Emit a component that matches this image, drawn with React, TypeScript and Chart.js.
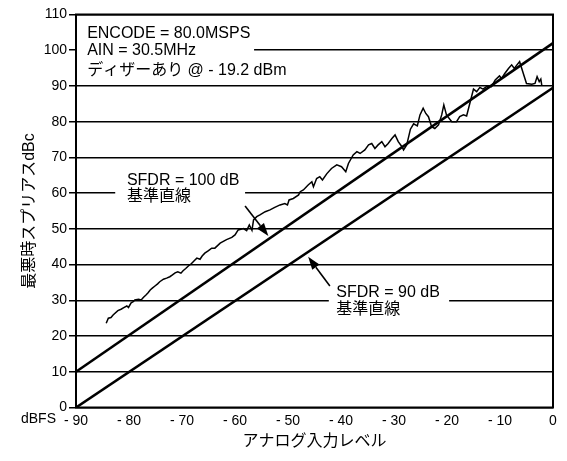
import React, { useEffect, useRef } from "react";
import { Chart, registerables } from "chart.js";

Chart.register(...registerables);

// ---- data ----
const inputLevel = [
  -84.3, -83.9, -83.4, -83.0, -82.1, -81.5, -80.9, -80.4, -80.1, -79.6, -79.2, -78.9, -78.2, -77.7,
  -77.3, -76.8, -76.4, -76.0, -75.6, -75.1, -74.6, -74.2, -73.5, -72.9, -72.3, -71.8, -71.3, -70.8,
  -70.2, -69.8, -69.3, -68.8, -68.2, -67.7, -67.2, -66.6, -66.2, -65.7, -65.0, -64.4, -63.8, -62.8,
  -61.6, -60.6, -60.0, -59.4, -58.4, -57.8, -57.3, -56.8, -56.5, -55.9, -55.3, -54.3, -53.4, -52.5,
  -51.5, -50.6, -50.1, -49.8, -49.0, -48.0, -47.7, -47.1, -46.2, -45.5, -45.2, -44.6, -44.0, -43.5,
  -42.7, -41.8, -40.8, -39.9, -39.1, -38.6, -37.7, -37.0, -36.4, -35.5, -34.8, -34.2, -33.6, -33.0,
  -32.3, -31.7, -31.1, -30.4, -29.8, -29.2, -28.5, -28.2, -27.6, -26.9, -26.3, -25.6, -25.1, -24.5,
  -24.0, -23.5, -22.9, -22.3, -21.6, -21.0, -20.6, -20.1, -19.1, -18.2, -17.6, -16.9, -16.3, -15.7,
  -15.0, -14.4, -13.8, -13.2, -12.4, -11.6, -10.9, -10.1, -9.7, -9.1, -8.4, -7.8, -7.3, -6.8, -6.3,
  -5.6, -5.0, -4.0, -3.4, -3.0, -2.6, -2.3, -2.1,
];
const worstSpurDbc = [
  23.6, 25.0, 25.2, 25.9, 27.1, 27.5, 28.0, 28.4, 28.0, 29.3, 29.6, 30.1, 30.3, 30.1,
  30.8, 31.5, 32.1, 32.9, 33.4, 34.0, 34.6, 35.2, 35.9, 36.2, 36.6, 37.1, 37.7, 38.0,
  37.6, 38.3, 38.9, 39.6, 40.3, 41.1, 41.8, 41.5, 42.4, 43.2, 43.9, 44.6, 44.6, 46.0,
  47.0, 47.6, 48.3, 49.7, 50.1, 49.5, 51.1, 49.6, 52.5, 53.4, 53.9, 54.8, 55.3, 56.0,
  56.7, 57.1, 56.7, 58.1, 58.5, 59.5, 60.4, 60.9, 62.3, 63.2, 61.8, 64.1, 64.6, 63.7,
  65.4, 66.9, 67.9, 67.4, 66.0, 68.3, 70.7, 71.6, 71.1, 72.1, 73.5, 73.9, 72.5, 73.5,
  74.4, 73.0, 73.9, 75.3, 76.3, 74.4, 73.0, 72.1, 73.5, 77.9, 79.4, 78.8, 81.9, 83.8,
  82.3, 81.4, 78.6, 78.1, 79.1, 81.9, 84.7, 81.9, 80.0, 80.0, 81.4, 81.9, 81.6, 85.1,
  89.1, 88.4, 89.6, 89.1, 90.0, 89.8, 91.7, 92.8, 92.1, 93.5, 94.9, 95.9, 94.9, 95.9, 96.8,
  93.5, 90.7, 90.5, 90.7, 92.6, 91.2, 91.9, 90.0,
];
const ref100X = [-90, 0];
const ref100Y = [10, 102];
const ref90X = [-90, 0];
const ref90Y = [0, 89.5];

const xMin = -90;
const xMax = 0;
const yMin = 0;
const yMax = 110;
const tickStep = 10;

const xTitle = "アナログ入力レベル";
const yTitle = "最悪時スプリアスdBc";
const xUnitLabel = "dBFS";

const condLines = ["ENCODE = 80.0MSPS", "AIN = 30.5MHz", "ディザーあり @ - 19.2 dBm"];
const sfdr100Lines = ["SFDR = 100 dB", "基準直線"];
const sfdr90Lines = ["SFDR = 90 dB", "基準直線"];

const FONT = "'Liberation Sans', Arial, 'Noto Sans CJK JP', sans-serif";

// annotation placement in data units
const condAnchor = { x: -87.9, y: [104.7, 99.9, 94.3] };
const condBox = { x0: -90, x1: -56.4, y0: 91.6, y1: 109.3 };
const s100Anchor = { x: -80.4, y: [63.6, 59.1] };
const s100Box = { x0: -82.6, x1: -58.1, y0: 56.8, y1: 66.2 };
const s90Anchor = { x: -40.9, y: [32.2, 27.3] };
const s90Box = { x0: -42.3, x1: -19.6, y0: 25.8, y1: 34.5 };
const arrow100 = { from: [-58.1, 56.4], to: [-53.7, 48.0] };
const arrow90 = { from: [-42.1, 34.0], to: [-46.2, 42.2] };

const annotPlugin = {
  id: "annot",
  beforeDatasetsDraw(chart: any) {
    const { ctx, scales } = chart;
    const px = (v: number) => scales.x.getPixelForValue(v);
    const py = (v: number) => scales.y.getPixelForValue(v);
    ctx.save();
    ctx.fillStyle = "#ffffff";
    for (const b of [condBox, s100Box, s90Box]) {
      ctx.fillRect(px(b.x0), py(b.y1), px(b.x1) - px(b.x0), py(b.y0) - py(b.y1));
    }
    ctx.fillStyle = "#000";
    ctx.font = `16px ${FONT}`;
    ctx.textAlign = "left";
    ctx.textBaseline = "middle";
    condLines.forEach((t, i) => ctx.fillText(t, px(condAnchor.x), py(condAnchor.y[i])));
    sfdr100Lines.forEach((t, i) => ctx.fillText(t, px(s100Anchor.x), py(s100Anchor.y[i])));
    sfdr90Lines.forEach((t, i) => ctx.fillText(t, px(s90Anchor.x), py(s90Anchor.y[i])));

    const drawArrow = (a: { from: number[]; to: number[] }) => {
      const x0 = px(a.from[0]), y0 = py(a.from[1]);
      const x1 = px(a.to[0]), y1 = py(a.to[1]);
      const ang = Math.atan2(y1 - y0, x1 - x0);
      const hl = 13, hw = 4.5;
      const bx = x1 - hl * Math.cos(ang), by = y1 - hl * Math.sin(ang);
      ctx.strokeStyle = "#000";
      ctx.lineWidth = 1.6;
      ctx.beginPath();
      ctx.moveTo(x0, y0);
      ctx.lineTo(bx, by);
      ctx.stroke();
      ctx.beginPath();
      ctx.moveTo(x1, y1);
      ctx.lineTo(bx + hw * Math.sin(ang), by - hw * Math.cos(ang));
      ctx.lineTo(bx - hw * Math.sin(ang), by + hw * Math.cos(ang));
      ctx.closePath();
      ctx.fill();
    };
    drawArrow(arrow100);
    drawArrow(arrow90);
    ctx.restore();
  },
  afterDraw(chart: any) {
    const { ctx, chartArea } = chart;
    ctx.save();
    ctx.strokeStyle = "#000";
    ctx.lineWidth = 2;
    ctx.strokeRect(chartArea.left, chartArea.top, chartArea.right - chartArea.left, chartArea.bottom - chartArea.top);
    ctx.fillStyle = "#000";
    ctx.font = `14px ${FONT}`;
    ctx.textAlign = "left";
    ctx.textBaseline = "top";
    ctx.fillText(xUnitLabel, 21, chartArea.bottom + 5);
    ctx.restore();
  },
};

export default function App() {
  const ref = useRef<HTMLCanvasElement | null>(null);
  useEffect(() => {
    if (!ref.current) return;
    const chart = new Chart(ref.current, {
      type: "scatter",
      data: {
        datasets: [
          {
            label: "worst spur",
            data: inputLevel.map((x, i) => ({ x, y: worstSpurDbc[i] })),
            showLine: true,
            borderColor: "#000",
            borderWidth: 1.5,
            pointRadius: 0,
            tension: 0,
          },
          {
            label: "SFDR 100",
            data: ref100X.map((x, i) => ({ x, y: ref100Y[i] })),
            showLine: true,
            borderColor: "#000",
            borderWidth: 2.6,
            pointRadius: 0,
          },
          {
            label: "SFDR 90",
            data: ref90X.map((x, i) => ({ x, y: ref90Y[i] })),
            showLine: true,
            borderColor: "#000",
            borderWidth: 2.6,
            pointRadius: 0,
          },
        ],
      },
      options: {
        responsive: false,
        animation: false,
        layout: { padding: { left: 0, right: 14, top: 14.5, bottom: 0 } },
        plugins: { legend: { display: false }, tooltip: { enabled: false } },
        scales: {
          x: {
            type: "linear",
            min: xMin,
            max: xMax,
            grid: { display: false, drawTicks: false },
            border: { display: false },
            ticks: {
              stepSize: tickStep,
              color: "#000",
              padding: 5,
              maxRotation: 0,
              font: { family: FONT, size: 14 },
              callback: (v: any) => (Number(v) < 0 ? "- " + Math.abs(Number(v)) : String(v)),
            },
            title: {
              display: true,
              text: xTitle,
              color: "#000",
              font: { family: FONT, size: 16 },
              padding: { top: 0, bottom: 9.4 },
            },
            afterFit: (s: any) => {
              s.height = 53.5;
            },
          },
          y: {
            type: "linear",
            min: yMin,
            max: yMax,
            grid: { color: "#000", lineWidth: 1.5, tickLength: 7, drawTicks: true },
            border: { display: false },
            ticks: {
              stepSize: tickStep,
              color: "#000",
              padding: 2,
              font: { family: FONT, size: 14 },
            },
            title: {
              display: true,
              text: yTitle,
              color: "#000",
              font: { family: FONT, size: 16 },
              padding: { top: 20.4, bottom: 0 },
            },
            afterFit: (s: any) => {
              s.width = 76;
            },
          },
        },
      },
      plugins: [annotPlugin],
    });
    return () => chart.destroy();
  }, []);
  return (
    <div style={{ position: "absolute", left: 0, top: 0, width: 567, height: 461, background: "#fff" }}>
      <canvas ref={ref} width={567} height={461} style={{ display: "block" }} />
    </div>
  );
}
